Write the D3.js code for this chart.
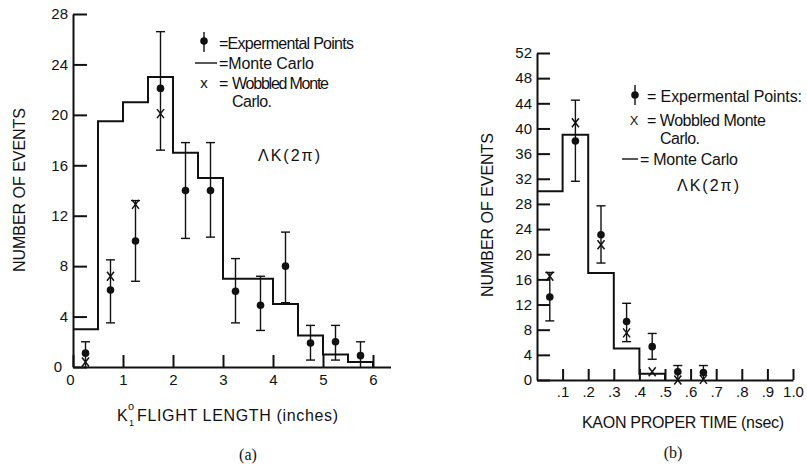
<!DOCTYPE html>
<html>
<head>
<meta charset="utf-8">
<script src="https://cdn.jsdelivr.net/npm/d3@7"></script>
<style>
body { margin: 0; background: #fff; }
text { font-family: "Liberation Sans", Arial, sans-serif; fill: #111; }
.axis path, .axis line { stroke: #111; stroke-width: 2; }
.hist { fill: none; stroke: #111; stroke-width: 2; }
.err { stroke: #111; stroke-width: 1.4; }
.wob { stroke: #111; stroke-width: 1.5; fill: none; }
</style>
</head>
<body>
<div id="chart"></div>
<script>
// ---- panel (a): K flight length ----
var aEdges = [0, 0.5, 1, 1.5, 2, 2.5, 3, 3.5, 4, 4.5, 5, 5.5, 6];
var aMonteCarlo = [3, 19.5, 21, 23, 17, 15, 7, 7, 5, 2.5, 1, 0.4];
var aCenters = [0.25, 0.75, 1.25, 1.75, 2.25, 2.75, 3.25, 3.75, 4.25, 4.75, 5.25, 5.75];
var aExp = [1.1, 6.1, 10, 22.1, 14, 14, 6, 4.9, 8, 1.9, 2, 0.9];
var aLow = [0, 3.5, 6.8, 17.2, 10.2, 10.3, 3.5, 2.9, 5.1, 0.55, 0.55, 0];
var aHigh = [2, 8.5, 13.2, 26.6, 17.8, 17.8, 8.6, 7.2, 10.7, 3.3, 3.3, 2];
var aWobCenters = [0.25, 0.75, 1.25, 1.75];
var aWob = [0.4, 7.2, 12.9, 20.1];
var aXTicks = [0, 1, 2, 3, 4, 5, 6];
var aYTicks = [0, 4, 8, 12, 16, 20, 24, 28];

// ---- panel (b): kaon proper time ----
var bEdges = [0, 0.1, 0.2, 0.3, 0.4, 0.5];
var bMonteCarlo = [30, 39, 17, 5, 1];
var bCenters = [0.05, 0.15, 0.25, 0.35, 0.45, 0.55, 0.65];
var bExp = [13.2, 38, 23.1, 9.3, 5.3, 1.3, 1.2];
var bLow = [9.4, 31.6, 18.6, 6.1, 3.3, 0, 0];
var bHigh = [17.1, 44.5, 27.7, 12.2, 7.4, 2.3, 2.3];
var bWob = [16.5, 40.9, 21.5, 7.5, 1.3, 0, 0.1];
var bXTicks = [0.1, 0.2, 0.3, 0.4, 0.5, 0.6, 0.7, 0.8, 0.9, 1.0];
var bXLabels = [".1", ".2", ".3", ".4", ".5", ".6", ".7", ".8", ".9", "1.0"];
var bYTicks = d3.range(0, 53, 4);

var svg = d3.select("#chart").append("svg")
    .attr("width", 807)
    .attr("height", 464);

// step outline of a histogram
function stepPoints(edges, vals) {
  var pts = [[edges[0], vals[0]]];
  vals.forEach(function(v, i) {
    pts.push([edges[i], v]);
    pts.push([edges[i + 1], v]);
  });
  pts.push([edges[edges.length - 1], 0]);
  return pts;
}

function drawPanel(p) {
  var x = d3.scaleLinear().domain(p.xDomain).range(p.xRange);
  var y = d3.scaleLinear().domain(p.yDomain).range(p.yRange);
  var g = svg.append("g");

  // axes (ticks point inward)
  var yAx = g.append("g")
      .attr("class", "axis")
      .attr("transform", "translate(" + p.xRange[0] + ",0)")
      .call(d3.axisLeft(y).tickValues(p.yTicks).tickSize(-p.yTickLen).tickSizeOuter(0).tickPadding(5))
      .attr("font-size", 15).attr("font-family", null);

  var xAx = g.append("g")
      .attr("class", "axis")
      .attr("transform", "translate(0," + p.yRange[0] + ")")
      .call(d3.axisBottom(x).tickValues(p.xTicks).tickSize(-p.xTickLen).tickSizeOuter(0).tickPadding(p.xPad)
        .tickFormat(function(d, i) { return p.xLabels ? p.xLabels[i] : d; }))
      .attr("font-size", 15).attr("font-family", null);

  // Monte Carlo histogram
  var line = d3.line().x(function(d) { return x(d[0]); }).y(function(d) { return y(d[1]); });
  g.append("path")
      .attr("class", "hist")
      .attr("d", line(stepPoints(p.edges, p.mc)));

  // error bars
  var eb = g.selectAll(".eb")
      .data(p.centers)
    .enter().append("g");
  eb.append("line")
      .attr("class", "err")
      .attr("x1", function(d) { return x(d); })
      .attr("x2", function(d) { return x(d); })
      .attr("y1", function(d, i) { return y(p.low[i]); })
      .attr("y2", function(d, i) { return y(p.high[i]); });
  eb.append("line")
      .attr("class", "err")
      .attr("x1", function(d) { return x(d) - 4.5; })
      .attr("x2", function(d) { return x(d) + 4.5; })
      .attr("y1", function(d, i) { return y(p.high[i]); })
      .attr("y2", function(d, i) { return y(p.high[i]); });
  eb.filter(function(d, i) { return p.low[i] > 0; }).append("line")
      .attr("class", "err")
      .attr("x1", function(d) { return x(d) - 4.5; })
      .attr("x2", function(d) { return x(d) + 4.5; })
      .attr("y1", function(d) { return y(p.low[p.centers.indexOf(d)]); })
      .attr("y2", function(d) { return y(p.low[p.centers.indexOf(d)]); });

  // wobbled MC crosses
  g.selectAll(".wobx")
      .data(p.wobCenters)
    .enter().append("path")
      .attr("class", "wob")
      .attr("d", function(d, i) {
        var cx = x(d), cy = y(p.wob[i]);
        return "M" + (cx - 3.5) + "," + (cy - 4.5) + "L" + (cx + 3.5) + "," + (cy + 4.5) +
               "M" + (cx + 3.5) + "," + (cy - 4.5) + "L" + (cx - 3.5) + "," + (cy + 4.5);
      });

  // experimental points
  g.selectAll(".dot")
      .data(p.centers)
    .enter().append("circle")
      .attr("cx", function(d) { return x(d); })
      .attr("cy", function(d, i) { return y(p.exp[i]); })
      .attr("r", 3.8)
      .attr("fill", "#111");

  return { g: g, xAx: xAx, yAx: yAx };
}

var pa = drawPanel({
  xDomain: [0, 6.35], xRange: [73, 390.5],
  yDomain: [0, 28], yRange: [367, 14],
  yTicks: aYTicks, xTicks: aXTicks, yTickLen: 14, xTickLen: 12, xPad: 7,
  edges: aEdges, mc: aMonteCarlo, centers: aCenters, exp: aExp, low: aLow, high: aHigh,
  wobCenters: aWobCenters, wob: aWob
});
// nudge the two zero labels apart, as in the original
pa.yAx.selectAll(".tick text").filter(function(d) { return d === 0; }).attr("dx", -6);
pa.xAx.selectAll(".tick text").filter(function(d) { return d === 0; }).attr("dx", -3);

var pb = drawPanel({
  xDomain: [0, 1], xRange: [537, 793],
  yDomain: [0, 52], yRange: [380, 53],
  yTicks: bYTicks, xTicks: bXTicks, xLabels: bXLabels, yTickLen: 13, xTickLen: 11, xPad: 6,
  edges: bEdges, mc: bMonteCarlo, centers: bCenters, exp: bExp, low: bLow, high: bHigh,
  wobCenters: bCenters, wob: bWob
});

// ---- labels ----
function label(x, y, s, opts) {
  opts = opts || {};
  var t = svg.append("text")
      .attr("x", x).attr("y", y)
      .attr("dy", "0.35em")
      .attr("font-size", opts.size || 15)
      .style("text-anchor", opts.anchor || "start")
      .text(s);
  if (opts.len) t.attr("textLength", opts.len).attr("lengthAdjust", "spacing");
  if (opts.rotate) t.attr("transform", "rotate(-90," + x + "," + y + ")");
  if (opts.serif) t.style("font-family", "'Liberation Serif', 'DejaVu Serif', serif");
  return t;
}

// axis titles
label(19, 190, "NUMBER OF EVENTS", { anchor: "middle", rotate: true, len: 164, size: 16 });
label(487, 215, "NUMBER OF EVENTS", { anchor: "middle", rotate: true, len: 164, size: 16 });
label(117, 415, "K", { size: 16 });
label(128, 406, "o", { size: 11 });
label(129, 423, "1", { size: 9 });
label(137, 415, "FLIGHT LENGTH  (inches)", { len: 201, size: 16 });
label(582, 422, "KAON PROPER TIME (nsec)", { len: 202, size: 16 });
label(248, 454, "(a)", { anchor: "middle", size: 16, serif: true });
label(673, 452, "(b)", { anchor: "middle", size: 16, serif: true });

// legend (a)
svg.append("line").attr("class", "err").attr("x1", 204).attr("x2", 204).attr("y1", 32).attr("y2", 52);
svg.append("circle").attr("cx", 204).attr("cy", 41).attr("r", 3.8).attr("fill", "#111");
label(219, 43, "=Expermental Points", { len: 135, size: 16 });
svg.append("line").attr("class", "err").attr("x1", 195).attr("x2", 217).attr("y1", 63).attr("y2", 63);
label(219, 63, "=Monte Carlo", { len: 95, size: 16 });
label(204, 83, "x", { anchor: "middle" });
label(219, 83, "=", { size: 16 });
label(232, 83, "Wobbled Monte", { len: 97, size: 16 });
label(232, 101, "Carlo.", { len: 40, size: 16 });
label(258, 155, "\u039BK(2\u03C0)", { len: 62, size: 16 });

// legend (b)
svg.append("line").attr("class", "err").attr("x1", 635).attr("x2", 635).attr("y1", 85).attr("y2", 105);
svg.append("circle").attr("cx", 635).attr("cy", 95).attr("r", 3.8).attr("fill", "#111");
label(647, 96, "= Expermental Points:", { len: 155, size: 16 });
label(634, 120, "X", { anchor: "middle", size: 13 });
label(647, 120, "= Wobbled Monte", { len: 119, size: 16 });
label(660, 138, "Carlo.", { len: 40, size: 16 });
svg.append("line").attr("class", "err").attr("x1", 622).attr("x2", 638).attr("y1", 159).attr("y2", 159);
label(640, 159, "= Monte Carlo", { len: 98, size: 16 });
label(677, 185, "\u039BK(2\u03C0)", { len: 62, size: 16 });
</script>
</body>
</html>
